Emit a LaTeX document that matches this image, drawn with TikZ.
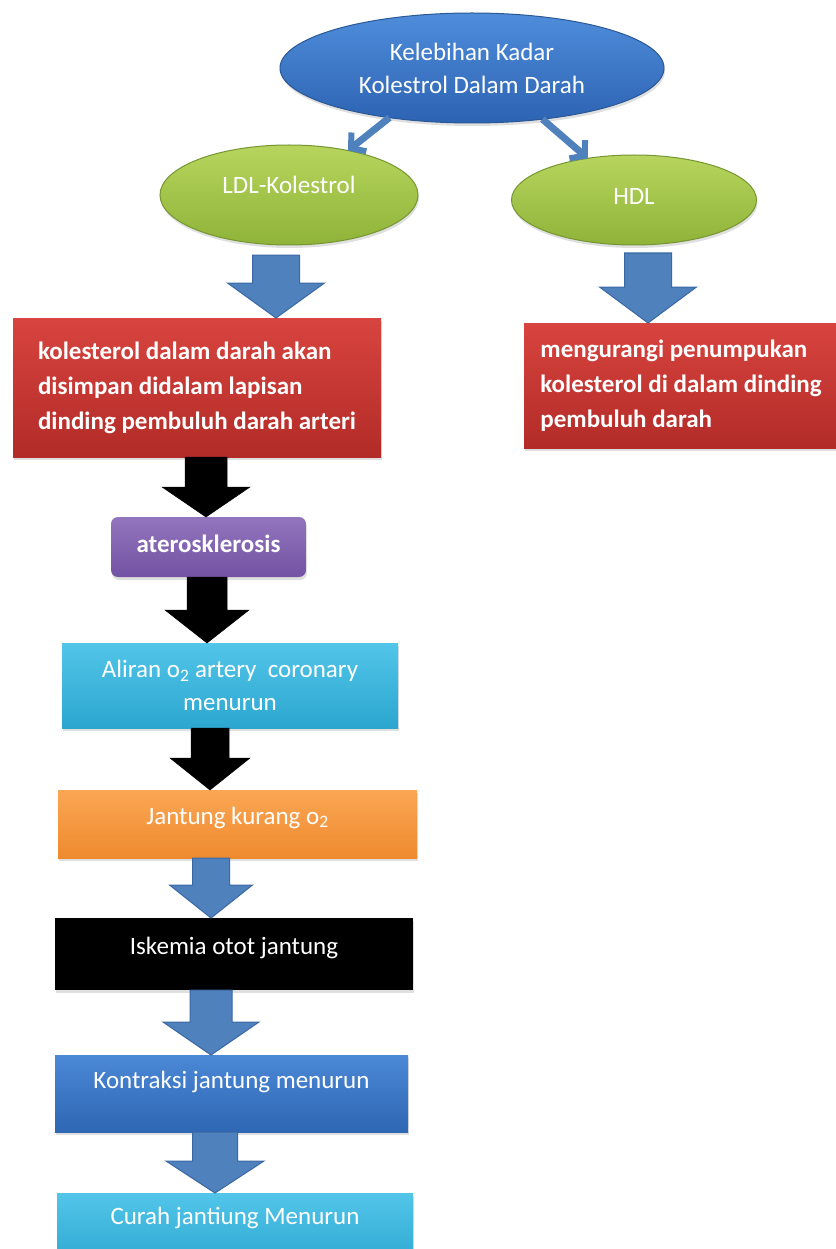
\documentclass[tikz,border=0pt]{standalone}
\usepackage{fontspec}
\setmainfont{Carlito}
\usetikzlibrary{calc,shapes.geometric,arrows.meta,shadows}
\definecolor{topblueT}{HTML}{4F8DDB}
\definecolor{topblueB}{HTML}{2C63B2}
\definecolor{topblueD}{HTML}{2A5896}
\definecolor{greenT}{HTML}{B7D55E}
\definecolor{greenB}{HTML}{8FB338}
\definecolor{greenD}{HTML}{769630}
\definecolor{redT}{HTML}{D8443F}
\definecolor{redB}{HTML}{B22B27}
\definecolor{purpleT}{HTML}{9375BE}
\definecolor{purpleB}{HTML}{7252A2}
\definecolor{cyanT}{HTML}{52C5E9}
\definecolor{cyanB}{HTML}{2CA6CF}
\definecolor{orangeT}{HTML}{FBA654}
\definecolor{orangeB}{HTML}{EE8A2E}
\definecolor{bboxT}{HTML}{4B88D6}
\definecolor{bboxB}{HTML}{2E67B4}
\definecolor{arrowblue}{HTML}{4F81BD}
\definecolor{arrowblueD}{HTML}{3A68A3}
\newcommand\blockarrow[8]{%
  \path (#4,0 |- #2.south) coordinate (ba-s) (#4,0 |- #3.north) coordinate (ba-t);
  \draw[#1] ($(ba-s)+(-#5,#8)$) -- ($(ba-s)+(#5,#8)$) -- ($(ba-t)+(#5,-#7)$) -- ($(ba-t)+(#6,-#7)$) -- (ba-t) -- ($(ba-t)+(-#6,-#7)$) -- ($(ba-t)+(-#5,-#7)$) -- cycle;
}
\begin{document}
\begin{tikzpicture}[x=1pt,y=-1pt,
  every node/.style={outer sep=0pt, inner sep=0pt, text=white},
  txt/.style={font=\fontsize{25}{33}\selectfont},
  btxt/.style={font=\fontsize{25}{35}\selectfont\bfseries},
  shad/.style={drop shadow={opacity=0.25, shadow xshift=1pt, shadow yshift=-3pt}},
  ell/.style={ellipse, txt, align=center, line width=1pt, shad},
  topell/.style={ell, top color=topblueT, bottom color=topblueB, draw=topblueD},
  grell/.style={ell, top color=greenT, bottom color=greenB, draw=greenD},
  box/.style={rectangle, txt, align=center, shad},
  redbox/.style={box, btxt, align=left, top color=redT, bottom color=redB},
  purplebox/.style={box, btxt, rounded corners=7pt, top color=purpleT, bottom color=purpleB},
  cyanbox/.style={box, top color=cyanT, bottom color=cyanB},
  orangebox/.style={box, top color=orangeT, bottom color=orangeB},
  blackbox/.style={box, fill=black},
  bluebox/.style={box, top color=bboxT, bottom color=bboxB},
  raise/.style={text height=17pt, text depth=#1},
  bluearrow/.style={fill=arrowblue, draw=arrowblueD, line width=1pt, line join=miter},
  blackarrow/.style={fill=black, draw=black, line width=0.5pt},
  thinarrow/.style={draw=arrowblue, line width=7pt, -{Straight Barb[length=10pt,width=24pt,line width=6pt]}}
]
\useasboundingbox (0,0) rectangle (835,1249);
\fill[white] (0,0) rectangle (835,1249);

% ellipses
\node[topell, minimum width=384pt, minimum height=110pt] (top) at (472,68)
  {Kelebihan Kadar\\Kolestrol Dalam Darah};
\node[grell, minimum width=258pt, minimum height=100pt, raise=19pt] (ldl) at (289,195) {LDL-Kolestrol};
\node[grell, minimum width=245pt, minimum height=90pt, raise=7pt] (hdl) at (634,200) {HDL};

% boxes
\node[redbox, minimum width=368pt, minimum height=139pt] (redL) at (197,387.5)
  {kolesterol dalam darah akan\\disimpan didalam lapisan\\dinding pembuluh darah arteri};
\node[redbox, minimum width=314pt, minimum height=125pt] (redR) at (681,385.5)
  {mengurangi penumpukan\\kolesterol di dalam dinding\\pembuluh darah};
\node[purplebox, minimum width=195pt, minimum height=60pt, raise=7pt] (ath) at (208.5,547) {aterosklerosis};
\node[cyanbox, minimum width=336pt, minimum height=85pt] (aliran) at (230,685.5)
  {Aliran o\textsubscript{2} artery\ \ coronary\\menurun};
\node[orangebox, minimum width=359pt, minimum height=68pt, raise=17pt] (jantung) at (237.5,824) {Jantung kurang o\textsubscript{2}};
\node[blackbox, minimum width=358pt, minimum height=72pt, raise=17pt] (iskemia) at (234,954) {Iskemia otot jantung};
\node[bluebox, minimum width=353pt, minimum height=77pt, raise=27pt] (kontraksi) at (231.5,1093.5) {Kontraksi jantung menurun};
\node[cyanbox, minimum width=356pt, minimum height=77pt, raise=31pt] (curah) at (235,1231.5) {Curah jantiung Menurun};

% small arrows from the top ellipse
\draw[thinarrow] (top.211) -- (ldl.37);
\draw[thinarrow] (top.324) -- (hdl.138);

% block arrows: style, source, target, x, shaft half, head half, head length, top gap
\blockarrow{bluearrow}{ldl}{redL}{276}{23.5}{48.5}{35}{10}
\blockarrow{bluearrow}{hdl}{redR}{648}{23.5}{48.5}{36}{8}
\blockarrow{blackarrow}{redL}{ath}{206}{21}{44}{30}{0}
\blockarrow{blackarrow}{ath}{aliran}{207}{20}{42}{33}{0}
\blockarrow{blackarrow}{aliran}{jantung}{210}{19}{40}{32}{0}
\blockarrow{bluearrow}{jantung}{iskemia}{211}{18.5}{41.5}{33}{0}
\blockarrow{bluearrow}{iskemia}{kontraksi}{211}{21}{48}{33}{0}
\blockarrow{bluearrow}{kontraksi}{curah}{215}{22.5}{49}{32}{0}
\end{tikzpicture}
\end{document}
